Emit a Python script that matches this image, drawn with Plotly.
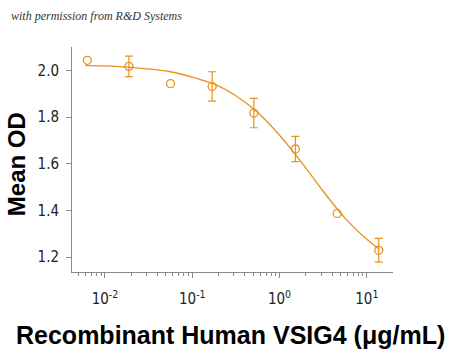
import plotly.graph_objects as go

# Data
conc = [0.00627, 0.0188, 0.0564, 0.169, 0.508, 1.52, 4.57, 13.7]
mean_od = [2.043, 2.017, 1.943, 1.931, 1.817, 1.663, 1.387, 1.229]
err = [None, 0.044, None, 0.063, 0.063, 0.054, None, 0.051]

# Fitted curve
curve_x = [0.0059, 0.0178, 0.0562, 0.178, 0.316, 0.562, 1.0, 1.78, 3.16, 5.62, 10.0, 13.6]
curve_y = [2.021, 2.014, 1.994, 1.941, 1.891, 1.819, 1.722, 1.607, 1.482, 1.367, 1.276, 1.236]

tick_vals = [0.01, 0.1, 1, 10]
tick_text = ["10<sup>-2</sup>", "10<sup>-1</sup>", "10<sup>0</sup>", "10<sup>1</sup>"]
y_ticks = [1.2, 1.4, 1.6, 1.8, 2.0]
y_text = ["1.2", "1.4", "1.6", "1.8", "2.0"]

orange = "#E8911F"
axis_col = "#8a8a8a"
tick_font = dict(family="Liberation Sans Narrow, DejaVu Sans Condensed, sans-serif", size=15, color="#222")
title_font = dict(family="Liberation Sans, Arial, sans-serif", size=24, color="black")

with_err_x = [c for c, e in zip(conc, err) if e is not None]
with_err_y = [m for m, e in zip(mean_od, err) if e is not None]
with_err_e = [e for e in err if e is not None]

fig = go.Figure()
fig.add_trace(go.Scatter(
    x=curve_x, y=curve_y, mode="lines",
    line=dict(color=orange, width=1.3, shape="spline", smoothing=0.8),
    hoverinfo="skip", showlegend=False,
))
fig.add_trace(go.Scatter(
    x=with_err_x, y=with_err_y, mode="markers",
    marker=dict(size=1, color="rgba(0,0,0,0)"),
    error_y=dict(type="data", array=with_err_e, visible=True, color=orange, thickness=1.2, width=4),
    showlegend=False, hoverinfo="skip",
))
fig.add_trace(go.Scatter(
    x=conc, y=mean_od, mode="markers",
    marker=dict(symbol="circle-open", size=8, color=orange, line=dict(width=1.3, color=orange)),
    showlegend=False,
))

fig.update_layout(
    width=450, height=350,
    margin=dict(l=72, r=57, t=47, b=78, autoexpand=False),
    paper_bgcolor="white", plot_bgcolor="white",
    xaxis=dict(
        type="log", range=[-2.378, 1.30],
        tickvals=tick_vals, ticktext=tick_text,
        showgrid=False, zeroline=False,
        showline=True, linecolor=axis_col, linewidth=1,
        ticks="outside", ticklen=5, tickcolor=axis_col, tickwidth=1,
        minor=dict(ticks="outside", ticklen=3, tickcolor=axis_col, dtick="D1", showgrid=False),
        tickfont=tick_font, automargin=False,
        ticklabelstandoff=8,
    ),
    yaxis=dict(
        range=[1.136, 2.10],
        tickvals=y_ticks, ticktext=y_text,
        showgrid=False, zeroline=False,
        showline=True, linecolor=axis_col, linewidth=1,
        ticks="outside", ticklen=5, tickcolor=axis_col, tickwidth=1,
        tickfont=tick_font, automargin=False,
        ticklabelstandoff=4,
    ),
    annotations=[
        dict(
            text="<i>with permission from R&amp;D Systems</i>",
            xref="paper", yref="paper", x=-0.195, y=1.0, xanchor="left", yanchor="bottom",
            yshift=22, showarrow=False,
            font=dict(family="Liberation Serif, DejaVu Serif, serif", size=12, color="#333"),
        ),
        dict(
            text="<b>Recombinant Human VSIG4 (\u03bcg/mL)</b>",
            xref="paper", yref="paper", x=0.495, y=-0.28, xanchor="center", yanchor="middle",
            showarrow=False, font=dict(title_font, size=25),
        ),
        dict(
            text="<b>Mean OD</b>",
            xref="paper", yref="paper", x=-0.174, y=0.48, xanchor="center", yanchor="middle",
            textangle=-90, showarrow=False, font=title_font,
        ),
    ],
)

fig.write_html("out.html")
